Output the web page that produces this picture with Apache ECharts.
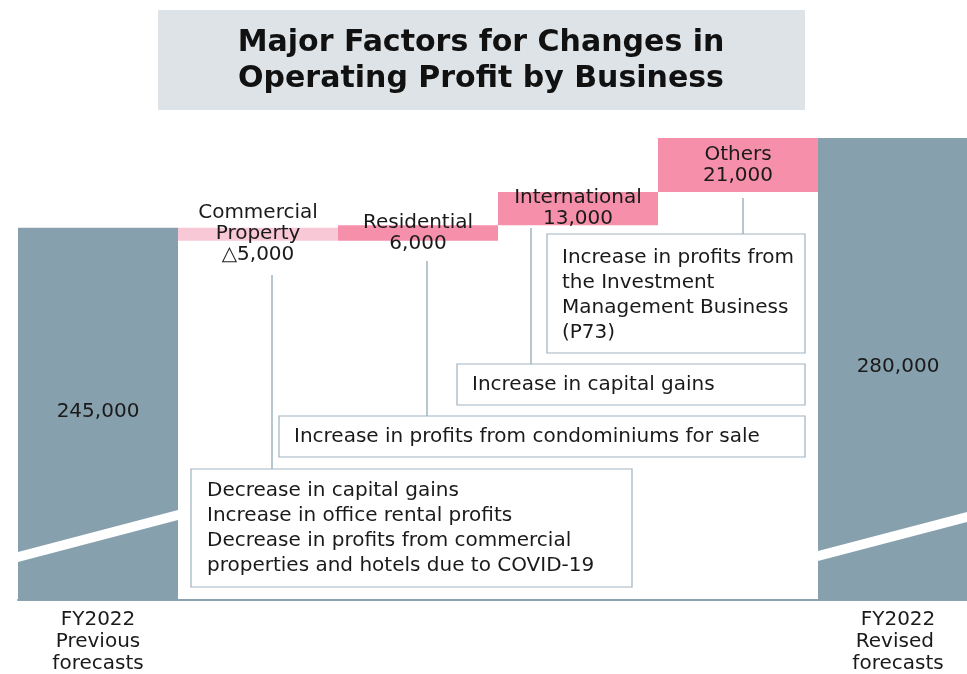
<!DOCTYPE html>
<html>
<head>
<meta charset="utf-8">
<script src="https://cdn.jsdelivr.net/npm/echarts@6/dist/echarts.min.js"></script>
<style>
  html, body { margin: 0; padding: 0; background: #fff; }
  #main { width: 967px; height: 674px; }
</style>
</head>
<body>
<div id="main"></div>
<script>
// data
var categories = ['FY2022\nPrevious\nforecasts', 'Commercial\nProperty', 'Residential', 'International', 'Others', 'FY2022\nRevised \nforecasts'];
var startTotal = 245000;
var endTotal = 280000;
var changes = [-5000, 6000, 13000, 21000];
var changeColors = ['#f8c8d6', '#f68fa9', '#f68fa9', '#f68fa9'];

var notes = [
  'Decrease in capital gains\nIncrease in office rental profits\nDecrease in profits from commercial\nproperties and hotels due to COVID-19',
  'Increase in profits from condominiums for sale',
  'Increase in capital gains',
  'Increase in profits from\nthe Investment\nManagement Business\n(P73)'
];

var FONT = '"DejaVu Sans", Verdana, sans-serif';

// build waterfall pieces from the running total
var baseData = ['-'];
var deltaData = ['-'];
var running = startTotal;
changes.forEach(function (c, i) {
  baseData.push(Math.min(running, running + c));
  deltaData.push({ value: Math.abs(c), itemStyle: { color: changeColors[i] } });
  running += c;
});
baseData.push('-');
deltaData.push('-');
var totalData = [startTotal, '-', '-', '-', '-', endTotal];

function fmt(v) {
  return String(v).replace(/\B(?=(\d{3})+(?!\d))/g, ',');
}

var dom = document.getElementById('main');
var myChart = echarts.init(dom, null, { renderer: 'canvas' });

function noteBox(x, y, w, h, text, tx, ty) {
  return {
    type: 'group',
    children: [
      { type: 'rect', shape: { x: x, y: y, width: w, height: h },
        style: { fill: '#fff', stroke: '#9fb3bf', lineWidth: 1.2 } },
      { type: 'text', x: tx, y: ty,
        style: { text: text, font: '20px ' + FONT, fill: '#1a1a1a', lineHeight: 25 } }
    ]
  };
}
function vline(x, y1, y2) {
  return { type: 'line', shape: { x1: x, y1: y1, x2: x, y2: y2 },
    style: { stroke: '#9fb3bf', lineWidth: 1.5 } };
}
function stripe(x1, x2, yl, yr) {
  return { type: 'polygon', z: 10,
    shape: { points: [[x1, yl - 5], [x2, yr - 5], [x2, yr + 5], [x1, yl + 5]] },
    style: { fill: '#fff' } };
}

var option = {
  animation: false,
  grid: { left: 18, right: -11, top: 138, bottom: 74, outerBoundsMode: 'none', containLabel: false },
  xAxis: {
    type: 'category',
    data: categories,
    axisTick: { show: false },
    axisLine: { lineStyle: { color: '#8aa2b0', width: 2 } },
    axisLabel: {
      interval: 0,
      margin: 9,
      fontFamily: FONT,
      fontSize: 20,
      lineHeight: 22,
      color: '#1a1a1a',
      formatter: function (v, i) { return (i === 0 || i === categories.length - 1) ? v : ''; }
    }
  },
  yAxis: {
    type: 'value',
    min: 100000,
    max: 280000,
    show: false,
    splitLine: { show: false }
  },
  series: [
    {
      name: 'total',
      type: 'bar',
      clip: true,
      barWidth: '100%',
      barGap: '-100%',
      data: totalData,
      itemStyle: { color: '#87a0ad' },
      label: {
        show: true, position: 'inside', offset: [0, -2], fontFamily: FONT, fontSize: 20, color: '#1a1a1a',
        formatter: function (p) { return fmt(p.value); }
      }
    },
    {
      name: 'base',
      type: 'bar',
      stack: 'wf',
      clip: true,
      barWidth: '100%',
      data: baseData,
      itemStyle: { color: 'transparent' },
      silent: true
    },
    {
      name: 'change',
      type: 'bar',
      stack: 'wf',
      clip: true,
      barWidth: '100%',
      data: deltaData,
      label: {
        show: true, position: 'inside', fontFamily: FONT, fontSize: 20, lineHeight: 21, color: '#1a1a1a',
        formatter: function (p) {
          var c = changes[p.dataIndex - 1];
          return categories[p.dataIndex] + '\n' + (c < 0 ? '△' : '') + fmt(Math.abs(c));
        }
      }
    }
  ],
  graphic: [
    { type: 'rect', shape: { x: 158, y: 10, width: 647, height: 100 }, style: { fill: '#dde3e6' } },
    { type: 'text', x: 481, y: 61,
      style: { text: 'Major Factors for Changes in\nOperating Profit by Business',
        font: 'bold 30px ' + FONT, fill: '#111', align: 'center', verticalAlign: 'middle', lineHeight: 36 } },
    stripe(18, 178, 557, 515),
    stripe(818, 978, 556, 514),
    vline(272, 275, 469),
    vline(427, 261, 416),
    vline(531, 228, 364),
    vline(743, 198, 234),
    noteBox(191, 469, 441, 118, notes[0], 207, 478),
    noteBox(279, 416, 526, 41, notes[1], 294, 424),
    noteBox(457, 364, 348, 41, notes[2], 472, 372),
    noteBox(547, 234, 258, 119, notes[3], 562, 245)
  ]
};

myChart.setOption(option);
</script>
</body>
</html>
